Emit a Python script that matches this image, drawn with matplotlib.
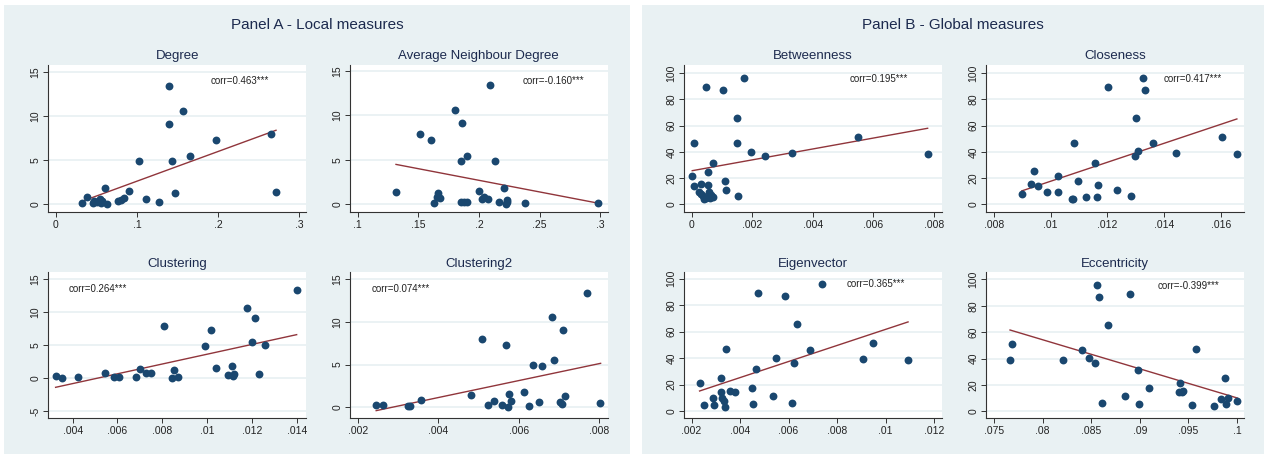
import matplotlib
matplotlib.use("Agg")
import matplotlib.pyplot as plt
from matplotlib.patches import Rectangle

plt.rcParams['font.family'] = ['Liberation Sans', 'DejaVu Sans']

# ---------------- Panel A: local measures (y on 0-15 scale) ----------------
degree_x = [0.032, 0.038, 0.046, 0.047, 0.050, 0.054, 0.055, 0.057, 0.061, 0.063,
            0.077, 0.080, 0.0835, 0.0905, 0.102, 0.111, 0.127, 0.140, 0.1395, 0.1436,
            0.147, 0.157, 0.166, 0.1975, 0.266, 0.271]
degree_y = [0.1, 0.8, 0.1, 0.3, 0.2, 0.6, 0.1, 0.3, 1.8, 0.0,
            0.35, 0.5, 0.7, 1.5, 4.95, 0.6, 0.25, 13.4, 9.1, 4.9,
            1.25, 10.6, 5.5, 7.3, 7.95, 1.4]
degree_fit_x = [0.032, 0.2716]
degree_fit_y = [0.3, 8.4]

avgnb_x = [0.1316, 0.1511, 0.1607, 0.1626, 0.1659, 0.1654, 0.1676, 0.180, 0.1854, 0.186,
           0.1854, 0.1876, 0.190, 0.190, 0.2003, 0.2025, 0.204, 0.2077, 0.2093, 0.2132,
           0.2168, 0.2209, 0.2223, 0.2231, 0.2234, 0.2382, 0.298]
avgnb_y = [1.4, 7.9, 7.25, 0.1, 1.25, 0.75, 0.7, 10.6, 4.8, 9.1,
           0.2, 0.2, 0.2, 5.45, 1.5, 0.6, 0.8, 0.55, 13.4, 4.9,
           0.2, 1.8, 0.0, 0.4, 0.2, 0.1, 0.15]
avgnb_fit_x = [0.1316, 0.2986]
avgnb_fit_y = [4.47, 0.08]

clust_x = [0.00324, 0.00352, 0.00425, 0.00543, 0.00583, 0.00608, 0.00684, 0.00699, 0.00729,
           0.00748, 0.00809, 0.00842, 0.00854, 0.00869, 0.00989, 0.01018, 0.01041, 0.01093,
           0.01111, 0.01117, 0.01122, 0.01177, 0.01199, 0.01216, 0.01233, 0.01259, 0.0140]
clust_y = [0.25, 0.05, 0.15, 0.76, 0.2, 0.2, 0.2, 1.42, 0.7,
           0.7, 7.95, -0.05, 1.27, 0.1, 4.9, 7.24, 1.52, 0.4,
           1.82, 0.35, 0.6, 10.58, 5.5, 9.06, 0.6, 4.96, 13.42]
clust_fit_x = [0.00324, 0.0140]
clust_fit_y = [-1.42, 6.58]

clust2_x = [0.00245, 0.00264, 0.00325, 0.00331, 0.00358, 0.00481, 0.00509, 0.00524, 0.00538,
            0.00558, 0.00567, 0.00574, 0.00575, 0.0058, 0.00612, 0.00626, 0.00635, 0.0065,
            0.00657, 0.00682, 0.00688, 0.00703, 0.00706, 0.0071, 0.00714, 0.0077, 0.00802]
clust2_y = [0.27, 0.27, 0.12, 0.2, 0.82, 1.48, 7.95, 0.23, 0.74,
            0.27, 7.28, 0.04, 1.56, 0.78, 1.83, 0.16, 4.99, 0.62,
            4.87, 10.6, 5.49, 0.66, 0.35, 9.08, 1.32, 13.4, 0.47]
clust2_fit_x = [0.00246, 0.00803]
clust2_fit_y = [-0.39, 5.14]

# ---------------- Panel B: global measures (y on 0-100 scale) ----------------
betw_x = [0.00002, 0.00008, 0.00009, 0.00023, 0.0003, 0.00032, 0.00037, 0.00042, 0.00046,
          0.00048, 0.00055, 0.00055, 0.00058, 0.0006, 0.00064, 0.00069, 0.00072, 0.00103,
          0.0011, 0.00112, 0.00149, 0.00151, 0.00153, 0.00172, 0.00195, 0.00242, 0.00332,
          0.00548, 0.00779]
betw_y = [21.3, 14.0, 47.0, 9.6, 15.2, 7.6, 6.3, 3.8, 89.1,
          5.1, 24.9, 14.5, 9.6, 4.6, 7.1, 5.3, 31.2, 87.1,
          17.8, 11.2, 65.5, 46.4, 6.3, 95.9, 40.1, 36.5, 38.8,
          51.3, 38.6]
betw_fit_x = [0.00002, 0.00779]
betw_fit_y = [25.6, 57.9]

close_x = [0.00898, 0.00929, 0.00941, 0.00955, 0.00987, 0.01026, 0.01026, 0.01076, 0.01078,
           0.01082, 0.01095, 0.01123, 0.01155, 0.01164, 0.01167, 0.01203, 0.01235, 0.01282,
           0.01296, 0.01302, 0.01307, 0.01325, 0.01332, 0.01362, 0.01443, 0.01602, 0.01656]
close_y = [7.9, 15.5, 25.1, 14.0, 9.6, 21.6, 9.6, 4.3, 3.8,
           47.0, 17.8, 5.3, 31.5, 5.3, 14.5, 89.1, 11.2, 6.3,
           36.8, 65.5, 40.6, 95.9, 86.8, 46.4, 39.1, 51.3, 38.6]
close_fit_x = [0.00898, 0.01656]
close_fit_y = [10.2, 65.0]

eigen_x = [0.00233, 0.00252, 0.00288, 0.00291, 0.00321, 0.00321, 0.00327, 0.00333, 0.00339,
           0.00342, 0.0036, 0.00379, 0.00449, 0.00452, 0.00467, 0.00472, 0.00537, 0.00549,
           0.00585, 0.00613, 0.00624, 0.00633, 0.0069, 0.00738, 0.00907, 0.00947, 0.01093]
eigen_y = [21.4, 4.3, 9.6, 4.8, 24.9, 14.1, 9.6, 7.6, 3.3,
           47.1, 15.4, 14.4, 17.6, 5.3, 31.5, 89.2, 11.3, 40.3,
           86.9, 6.3, 36.5, 65.5, 46.3, 96.2, 39.0, 51.4, 38.5]
eigen_fit_x = [0.00233, 0.01093]
eigen_fit_y = [15.1, 67.3]

ecc_x = [0.07665, 0.07685, 0.08213, 0.08409, 0.08481, 0.08536, 0.08563, 0.0858, 0.08615,
         0.08676, 0.08848, 0.08903, 0.08985, 0.08995, 0.09098, 0.09407, 0.09417, 0.09438,
         0.09448, 0.0954, 0.09582, 0.0976, 0.09832, 0.0988, 0.09887, 0.09904, 0.10003]
ecc_y = [38.6, 51.3, 38.9, 46.5, 40.2, 36.6, 96.0, 86.6, 6.3,
         65.4, 11.4, 88.9, 31.3, 5.3, 17.9, 14.6, 21.5, 14.6,
         15.4, 4.8, 47.0, 3.8, 9.6, 25.0, 5.3, 9.8, 8.1]
ecc_fit_x = [0.07665, 0.10003]
ecc_fit_y = [61.6, 10.1]

# Tick values and labels
ticks_deg = [0, 0.1, 0.2, 0.3]
labels_deg = ['0', '.1', '.2', '.3']
ticks_avg = [0.1, 0.15, 0.2, 0.25, 0.3]
labels_avg = ['.1', '.15', '.2', '.25', '.3']
ticks_cl = [0.004, 0.006, 0.008, 0.010, 0.012, 0.014]
labels_cl = ['.004', '.006', '.008', '.01', '.012', '.014']
ticks_cl2 = [0.002, 0.004, 0.006, 0.008]
labels_cl2 = ['.002', '.004', '.006', '.008']
ticks_bt = [0, 0.002, 0.004, 0.006, 0.008]
labels_bt = ['0', '.002', '.004', '.006', '.008']
ticks_cs = [0.008, 0.010, 0.012, 0.014, 0.016]
labels_cs = ['.008', '.01', '.012', '.014', '.016']
ticks_ev = [0.002, 0.004, 0.006, 0.008, 0.010, 0.012]
labels_ev = ['.002', '.004', '.006', '.008', '.01', '.012']
ticks_ec = [0.075, 0.080, 0.085, 0.090, 0.095, 0.100]
labels_ec = ['.075', '.08', '.085', '.09', '.095', '.1']

yticks_a = [0, 5, 10, 15]
yticks_a_neg = [-5, 0, 5, 10, 15]
yticks_b = [0, 20, 40, 60, 80, 100]

corr_labels = ['corr=0.463***', 'corr=-0.160***', 'corr=0.264***', 'corr=0.074***',
               'corr=0.195***', 'corr=0.417***', 'corr=0.365***', 'corr=-0.399***']
titles = ['Degree', 'Average Neighbour Degree', 'Clustering', 'Clustering2',
          'Betweenness', 'Closeness', 'Eigenvector', 'Eccentricity']

BG = '#e9f1f3'
NAVY = '#1a476f'
MAROON = '#90353b'
TITLE_C = '#1c2a4e'

W, H = 1267, 454
fig = plt.figure(figsize=(W / 100, H / 100), dpi=100)
fig.patch.set_facecolor('white')

def px_rect(x0, y0, x1, y1):
    return [x0 / W, 1 - y1 / H, (x1 - x0) / W, (y1 - y0) / H]

# panel backgrounds
for x0, x1 in [(4, 630), (642, 1264)]:
    r = px_rect(x0, 5, x1, 454)
    fig.add_artist(Rectangle((r[0], r[1]), r[2], r[3], transform=fig.transFigure,
                             facecolor=BG, edgecolor='none', zorder=0))

fig.text(317 / W, 1 - 25 / H, 'Panel A - Local measures', ha='center', va='center',
         fontsize=11, color=TITLE_C)
fig.text(953 / W, 1 - 25 / H, 'Panel B - Global measures', ha='center', va='center',
         fontsize=11, color=TITLE_C)

specs = [
    # x, y, fit_x, fit_y, xticks, xlabels, yticks, xlim, ylim, px box, corr pos
    (degree_x, degree_y, degree_fit_x, degree_fit_y, ticks_deg, labels_deg, yticks_a,
     (-0.0095, 0.3086), (-0.95, 15.84), (48.3, 65, 306, 212.3), (0.63, 0.89)),
    (avgnb_x, avgnb_y, avgnb_fit_x, avgnb_fit_y, ticks_avg, labels_avg, yticks_a,
     (0.0937, 0.306), (-0.94, 15.7), (350, 65, 607.7, 212.3), (0.67, 0.89)),
    (clust_x, clust_y, clust_fit_x, clust_fit_y, ticks_cl, labels_cl, yticks_a_neg,
     (0.002914, 0.014417), (-6.08, 16.05), (48.3, 272.3, 306, 418), (0.078, 0.885)),
    (clust2_x, clust2_y, clust2_fit_x, clust2_fit_y, ticks_cl2, labels_cl2, yticks_a,
     (0.00181, 0.008206), (-1.25, 15.78), (350, 272.3, 607.7, 418), (0.082, 0.885)),
    (betw_x, betw_y, betw_fit_x, betw_fit_y, ticks_bt, labels_bt, yticks_b,
     (-0.000242, 0.008264), (-6.1, 106.1), (684.3, 65, 942, 212.3), (0.643, 0.907)),
    (close_x, close_y, close_fit_x, close_fit_y, ticks_cs, labels_cs, yticks_b,
     (0.00773, 0.016822), (-6.1, 106.1), (986.3, 65, 1244.3, 212.3), (0.689, 0.907)),
    (eigen_x, eigen_y, eigen_fit_x, eigen_fit_y, ticks_ev, labels_ev, yticks_b,
     (0.0017, 0.01233), (-5.3, 104.8), (684.3, 272.3, 942, 418), (0.631, 0.918)),
    (ecc_x, ecc_y, ecc_fit_x, ecc_fit_y, ticks_ec, labels_ec, yticks_b,
     (0.07421, 0.10075), (-5.05, 105.3), (986.3, 272.3, 1244.3, 418), (0.663, 0.904)),
]

for i, (xs, ys, fx, fy, xt, xl, yt, xlim, ylim, box, cpos) in enumerate(specs):
    ax = fig.add_axes(px_rect(*box))
    ax.set_facecolor('white')
    for yv in yt:
        ax.axhline(yv, color=BG, lw=1.3, zorder=1)
    ax.scatter(xs, ys, s=32, color=NAVY, linewidths=0, zorder=3)
    ax.plot(fx, fy, color=MAROON, lw=1.0, zorder=2)
    ax.set_xlim(*xlim)
    ax.set_ylim(*ylim)
    ax.set_xticks(xt)
    ax.set_xticklabels(xl)
    ax.set_yticks(yt)
    ax.set_yticklabels([str(v) for v in yt], rotation=90, va='center')
    for s in ['top', 'right']:
        ax.spines[s].set_visible(False)
    for s in ['left', 'bottom']:
        ax.spines[s].set_color('#333333')
        ax.spines[s].set_linewidth(0.8)
    ax.tick_params(axis='both', length=3.5, width=0.7, color='#333333',
                   labelsize=7.5, labelcolor='#222222', pad=2)
    ax.set_title(titles[i], fontsize=9.5, color=TITLE_C, pad=4)
    ax.text(cpos[0], cpos[1], corr_labels[i], transform=ax.transAxes,
            fontsize=7, color='#222222', ha='left', va='center')

fig.savefig('out.png', dpi=100, facecolor='white')
